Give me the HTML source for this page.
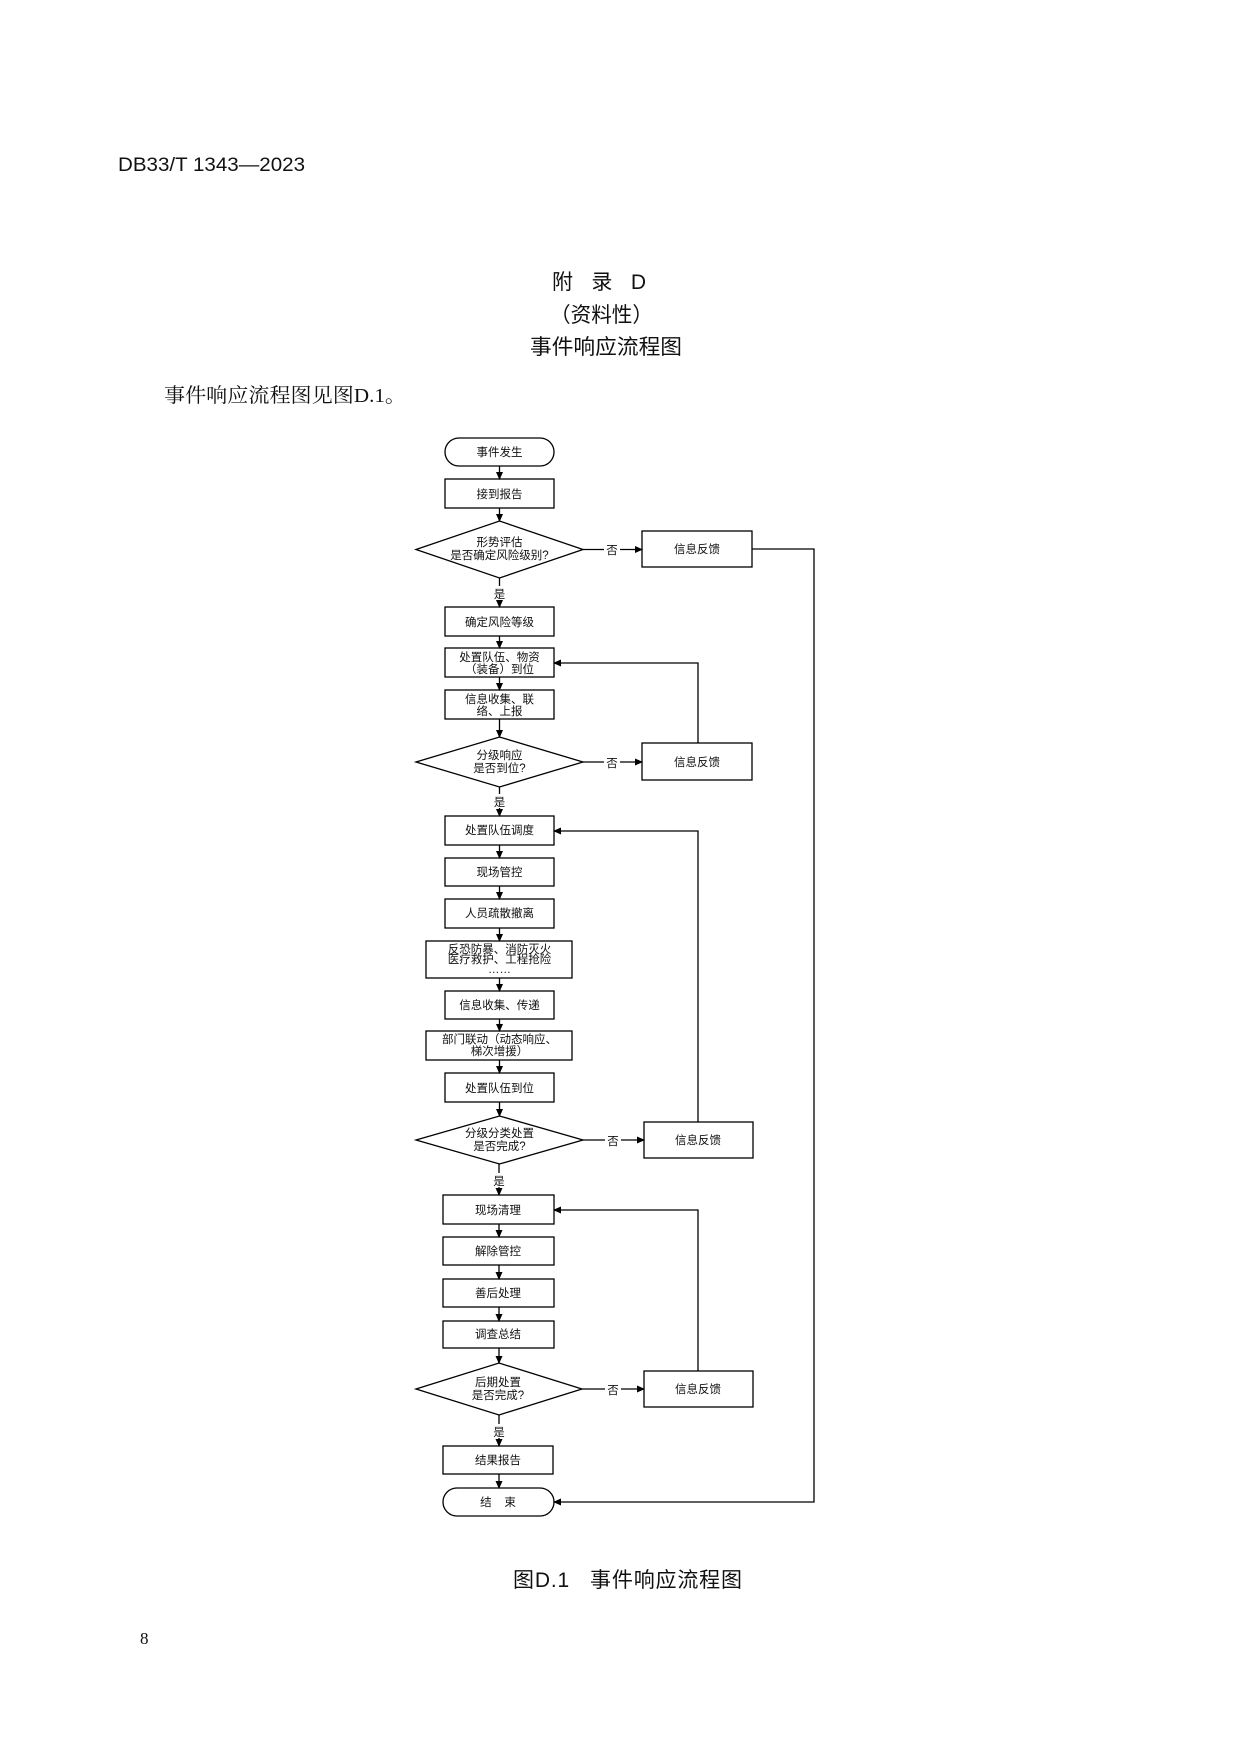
<!DOCTYPE html>
<html><head><meta charset="utf-8"><style>
html,body{margin:0;padding:0;background:#fff;}
svg{display:block;}
.h{font-family:"Liberation Sans","Noto Sans CJK SC",sans-serif;}
.f{font-family:"Liberation Sans","Noto Sans CJK SC",sans-serif;font-size:11.5px;fill:#111;}
</style></head><body>
<svg width="1241" height="1754" viewBox="0 0 1241 1754" xmlns="http://www.w3.org/2000/svg">
<defs><marker id="a" markerWidth="8" markerHeight="8" refX="7" refY="4" orient="auto" markerUnits="userSpaceOnUse"><path d="M0,0.5 L8,4 L0,7.5 Z" fill="#000"/></marker></defs>
<rect width="1241" height="1754" fill="#fff"/>
<text x="118" y="171" class="h" font-size="19" fill="#111" textLength="187" lengthAdjust="spacingAndGlyphs">DB33/T 1343—2023</text>
<text x="552" y="289" class="h" font-size="21" fill="#111" textLength="94" lengthAdjust="spacing" xml:space="preserve">附  录  D</text>
<text x="550" y="322" class="h" font-size="21" fill="#111" textLength="103" lengthAdjust="spacingAndGlyphs">（资料性）</text>
<text x="530" y="354" class="h" font-size="21" fill="#111" textLength="152" lengthAdjust="spacingAndGlyphs">事件响应流程图</text>
<text x="164" y="402" font-family="Liberation Serif,'Noto Serif CJK SC',serif" font-size="20" fill="#111" textLength="242" lengthAdjust="spacingAndGlyphs">事件响应流程图见图D.1。</text>
<text x="140" y="1644" font-family="Liberation Serif,serif" font-size="17" fill="#111">8</text>
<text x="513" y="1587" class="h" font-size="21" fill="#111" textLength="229" lengthAdjust="spacing" xml:space="preserve">图D.1   事件响应流程图</text>

<g stroke="#000" stroke-width="1.3" fill="#fff">
<rect x="445" y="438" width="109" height="28" rx="14"/>
<rect x="445" y="479" width="109" height="29"/>
<polygon points="416,549.5 499.5,521 583,549.5 499.5,578"/>
<rect x="642" y="531" width="110" height="36"/>
<rect x="445" y="607" width="109" height="29"/>
<rect x="445" y="648" width="109" height="29"/>
<rect x="445" y="690" width="109" height="29"/>
<polygon points="416,762 499.5,737 583,762 499.5,787"/>
<rect x="642" y="743" width="110" height="37"/>
<rect x="445" y="816" width="109" height="29"/>
<rect x="445" y="858" width="109" height="28"/>
<rect x="445" y="899" width="109" height="29"/>
<rect x="426" y="941" width="146" height="37"/>
<rect x="445" y="991" width="109" height="28"/>
<rect x="426" y="1031" width="146" height="29"/>
<rect x="445" y="1073" width="109" height="29"/>
<polygon points="416,1140 499.5,1116 583,1140 499.5,1164"/>
<rect x="644" y="1122" width="109" height="36"/>
<rect x="443" y="1195" width="111" height="29"/>
<rect x="443" y="1237" width="111" height="28"/>
<rect x="443" y="1279" width="111" height="28"/>
<rect x="443" y="1321" width="111" height="27"/>
<polygon points="416,1389 499,1363 582,1389 499,1415"/>
<rect x="644" y="1371" width="109" height="36"/>
<rect x="443" y="1446" width="110" height="28"/>
<rect x="443" y="1488" width="111" height="28" rx="14"/>
</g>

<g stroke="#000" stroke-width="1.3" fill="none" marker-end="url(#a)">
<line x1="499.5" y1="466" x2="499.5" y2="479"/>
<line x1="499.5" y1="508" x2="499.5" y2="521"/>
<line x1="499.5" y1="578" x2="499.5" y2="607"/>
<line x1="499.5" y1="636" x2="499.5" y2="648"/>
<line x1="499.5" y1="677" x2="499.5" y2="690"/>
<line x1="499.5" y1="719" x2="499.5" y2="737"/>
<line x1="499.5" y1="787" x2="499.5" y2="816"/>
<line x1="499.5" y1="845" x2="499.5" y2="858"/>
<line x1="499.5" y1="886" x2="499.5" y2="899"/>
<line x1="499.5" y1="928" x2="499.5" y2="941"/>
<line x1="499.5" y1="978" x2="499.5" y2="991"/>
<line x1="499.5" y1="1019" x2="499.5" y2="1031"/>
<line x1="499.5" y1="1060" x2="499.5" y2="1073"/>
<line x1="499.5" y1="1102" x2="499.5" y2="1116"/>
<line x1="499" y1="1164" x2="499" y2="1195"/>
<line x1="499" y1="1224" x2="499" y2="1237"/>
<line x1="499" y1="1265" x2="499" y2="1279"/>
<line x1="499" y1="1307" x2="499" y2="1321"/>
<line x1="499" y1="1348" x2="499" y2="1363"/>
<line x1="499" y1="1415" x2="499" y2="1446"/>
<line x1="499" y1="1474" x2="499" y2="1488"/>
<line x1="583" y1="549.5" x2="642" y2="549.5"/>
<line x1="583" y1="762" x2="642" y2="762"/>
<line x1="583" y1="1140" x2="644" y2="1140"/>
<line x1="582" y1="1389" x2="644" y2="1389"/>
<polyline points="698,743 698,663 554,663"/>
<polyline points="698,1122 698,831 554,831"/>
<polyline points="698,1371 698,1210 554,1210"/>
<polyline points="752,549 814,549 814,1502 554,1502"/>
</g>

<g class="f" text-anchor="middle">
<text x="499.5" y="456">事件发生</text>
<text x="499.5" y="498">接到报告</text>
<text x="499.5" y="546">形势评估</text>
<text x="499.5" y="559">是否确定风险级别?</text>
<text x="697" y="553">信息反馈</text>
<text x="499.5" y="626">确定风险等级</text>
<text x="499.5" y="661">处置队伍、物资</text>
<text x="499.5" y="673">（装备）到位</text>
<text x="499.5" y="703">信息收集、联</text>
<text x="499.5" y="715">络、上报</text>
<text x="499.5" y="759">分级响应</text>
<text x="499.5" y="772">是否到位?</text>
<text x="697" y="766">信息反馈</text>
<text x="499.5" y="834">处置队伍调度</text>
<text x="499.5" y="876">现场管控</text>
<text x="499.5" y="917">人员疏散撤离</text>
<text x="499.5" y="953">反恐防暴、消防灭火</text>
<text x="499.5" y="963">医疗救护、工程抢险</text>
<text x="499.5" y="973">……</text>
<text x="499.5" y="1009">信息收集、传递</text>
<text x="499.5" y="1043">部门联动（动态响应、</text>
<text x="499.5" y="1055">梯次增援）</text>
<text x="499.5" y="1092">处置队伍到位</text>
<text x="499.5" y="1137">分级分类处置</text>
<text x="499.5" y="1150">是否完成?</text>
<text x="698" y="1144">信息反馈</text>
<text x="498" y="1214">现场清理</text>
<text x="498" y="1255">解除管控</text>
<text x="498" y="1297">善后处理</text>
<text x="498" y="1338">调查总结</text>
<text x="498" y="1386">后期处置</text>
<text x="498" y="1399">是否完成?</text>
<text x="698" y="1393">信息反馈</text>
<text x="498" y="1464">结果报告</text>
<text x="498" y="1506" xml:space="preserve">结    束</text>
</g>
<g class="f" text-anchor="middle">
<rect x="604" y="542" width="16" height="15" fill="#fff"/><text x="612" y="554">否</text>
<rect x="604" y="755" width="16" height="15" fill="#fff"/><text x="612" y="767">否</text>
<rect x="605" y="1133" width="16" height="15" fill="#fff"/><text x="613" y="1145">否</text>
<rect x="605" y="1382" width="16" height="15" fill="#fff"/><text x="613" y="1394">否</text>
<rect x="491" y="586" width="17" height="14" fill="#fff"/><text x="499.5" y="598">是</text>
<rect x="491" y="794" width="17" height="14" fill="#fff"/><text x="499.5" y="806">是</text>
<rect x="491" y="1173" width="17" height="14" fill="#fff"/><text x="499" y="1185">是</text>
<rect x="490" y="1424" width="17" height="14" fill="#fff"/><text x="499" y="1436">是</text>
</g>
</svg>
</body></html>
